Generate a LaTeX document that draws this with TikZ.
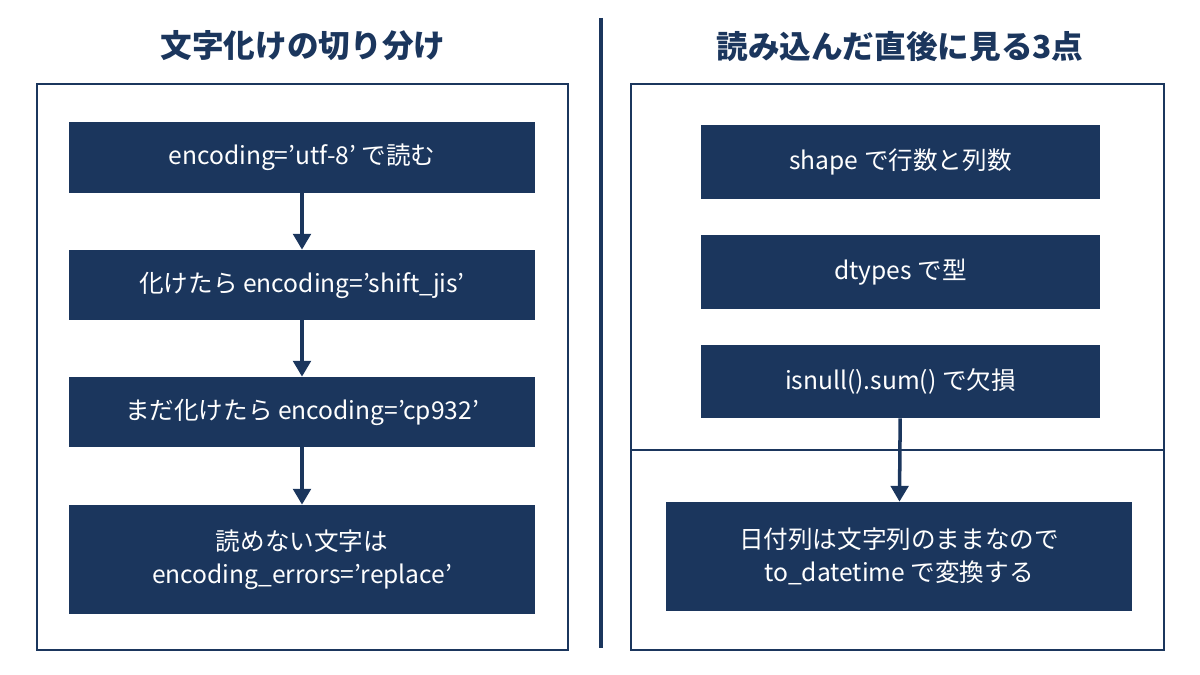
\documentclass[tikz,border=0pt]{standalone}
\usepackage{fontspec}
\setmainfont{Noto Sans CJK JP}
\usetikzlibrary{arrows.meta}
\definecolor{navy}{HTML}{1B365D}
\tikzset{step box/.style={fill=navy,text=white,font=\fontsize{14}{19}\selectfont,align=center,inner sep=0pt},
  title/.style={text=navy,font=\fontsize{18}{22}\selectfont\bfseries},
  frame/.style={draw=navy,line width=0.9pt},
  flow/.style={draw=navy,line width=2pt,-{Triangle[length=9pt,width=10pt]}}}

\begin{document}
\begin{tikzpicture}[x=0.02cm,y=-0.02cm]
	\useasboundingbox (0,0) rectangle (1200,675);
	% titles and divider
	\node[title] (tl) at (303,46) {文字化けの切り分け};
	\node[title] (tr) at (900,46) {読み込んだ直後に見る3点};
	\draw[navy,line width=2pt] (601,18) -- (601,648);
	% left column
	\draw[frame] (37,84) rectangle (568,650);
	\node[step box,minimum width=466*0.02cm,minimum height=71*0.02cm] (a1) at (302,157.5) {encoding='utf-8' で読む};
	\node[step box,minimum width=466*0.02cm,minimum height=70*0.02cm] (a2) at (302,285) {化けたら encoding='shift\_jis'};
	\node[step box,minimum width=466*0.02cm,minimum height=70*0.02cm] (a3) at (302,412) {まだ化けたら encoding='cp932'};
	\node[step box,minimum width=466*0.02cm,minimum height=109*0.02cm] (a4) at (302,559.5) {読めない文字は\\encoding\_errors='replace'};
	\draw[flow] (a1) -- (a2);
	\draw[flow] (a2) -- (a3);
	\draw[flow] (a3) -- (a4);
	% right column
	\draw[frame] (631,84) rectangle (1164,650);
	\draw[frame] (631,450) -- (1164,450);
	\node[step box,minimum width=399*0.02cm,minimum height=74*0.02cm] (b1) at (900.5,162) {shape で行数と列数};
	\node[step box,minimum width=399*0.02cm,minimum height=74*0.02cm] (b2) at (900.5,272) {dtypes で型};
	\node[step box,minimum width=399*0.02cm,minimum height=73*0.02cm] (b3) at (900.5,381.5) {isnull().sum() で欠損};
	\node[step box,minimum width=466*0.02cm,minimum height=109*0.02cm] (b4) at (899,556.5) {日付列は文字列のままなので\\to\_datetime で変換する};
	\draw[flow] (b3) -- (b4);
\end{tikzpicture}
\end{document}
